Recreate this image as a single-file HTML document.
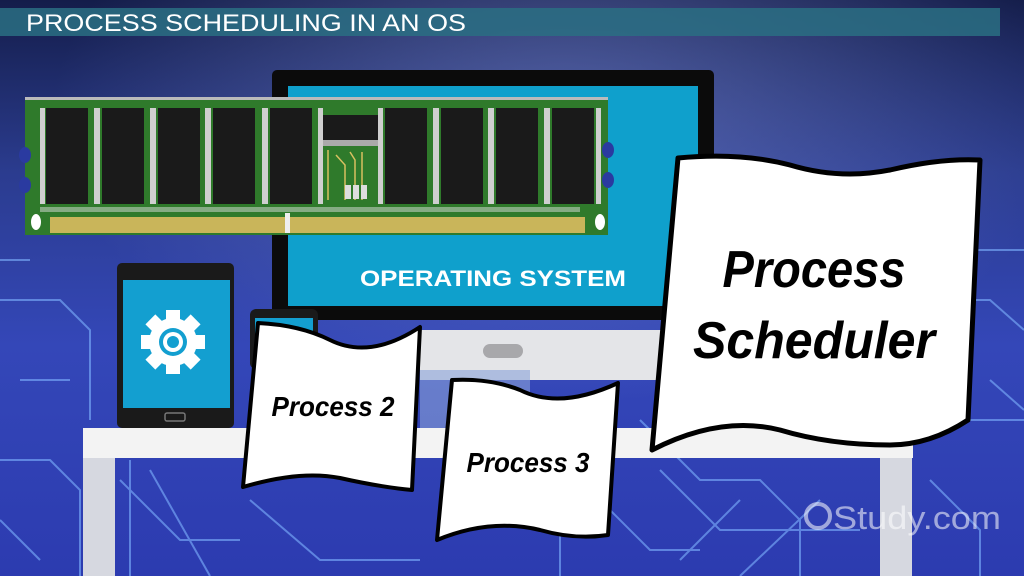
<!DOCTYPE html>
<html><head><meta charset="utf-8"><style>
html,body{margin:0;padding:0;width:1024px;height:576px;overflow:hidden;background:#2a3aa0}
svg{display:block}
</style></head><body>
<svg width="1024" height="576" viewBox="0 0 1024 576" xmlns="http://www.w3.org/2000/svg">
<defs>
<linearGradient id="bg" x1="0" y1="0" x2="0" y2="1">
<stop offset="0" stop-color="#141d4a"/><stop offset="0.3" stop-color="#2b3c8f"/><stop offset="0.6" stop-color="#3447b8"/><stop offset="1" stop-color="#2c3bb0"/>
</linearGradient>
<radialGradient id="glow" cx="0.55" cy="0.2" r="0.5"><stop offset="0" stop-color="#8090d8" stop-opacity="0.5"/><stop offset="1" stop-color="#8090d8" stop-opacity="0"/></radialGradient>
</defs>
<rect width="1024" height="576" fill="url(#bg)"/>
<rect width="1024" height="576" fill="url(#glow)"/>
<g stroke="#7fb4ff" stroke-width="2" fill="none" opacity="0.6">
<path d="M0 300 L60 300 L90 330 L90 420"/><path d="M0 460 L50 460 L80 490 L80 576"/>
<path d="M940 250 L1024 250"/><path d="M920 300 L990 300 L1024 330"/>
<path d="M930 480 L980 530 L980 576"/><path d="M640 420 L700 480 L760 480 L800 520 L800 576"/>
<path d="M250 500 L320 560 L420 560"/><path d="M560 520 L560 576"/><path d="M600 500 L650 550 L700 550"/>
<path d="M120 480 L180 540 L240 540"/><path d="M0 520 L40 560"/><path d="M660 470 L720 530 L860 530"/>
<path d="M0 260 L30 260"/><path d="M20 380 L70 380"/><path d="M990 380 L1024 410"/><path d="M960 420 L1024 420"/>
<path d="M130 460 L130 576"/><path d="M150 470 L210 576"/><path d="M680 560 L740 500"/><path d="M740 576 L820 500"/>
</g>
<!-- header -->
<rect x="0" y="8" width="1000" height="28" fill="#2a6f82" opacity="0.85"/>
<text x="26" y="31" font-family="Liberation Sans Narrow, Liberation Sans, sans-serif" font-size="24" fill="#fff" textLength="440" lengthAdjust="spacingAndGlyphs">PROCESS SCHEDULING IN AN OS</text>
<!-- desk -->
<rect x="83" y="428" width="830" height="30" fill="#f3f3f3"/>
<rect x="83" y="458" width="32" height="118" fill="#d6d8e0"/>
<rect x="880" y="458" width="32" height="118" fill="#d6d8e0"/>
<!-- monitor stand -->
<rect x="420" y="330" width="245" height="50" fill="#e4e5e8"/>
<rect x="483" y="344" width="40" height="14" rx="7" fill="#a8a8ab"/>
<rect x="420" y="370" width="110" height="58" fill="#8aa2d8" opacity="0.6"/>
<!-- monitor -->
<rect x="272" y="70" width="442" height="250" rx="5" fill="#0b0b0b"/>
<rect x="288" y="86" width="410" height="220" fill="#0fa0cc"/>
<text x="360" y="286" font-family="Liberation Sans, sans-serif" font-weight="bold" font-size="22" fill="#fff" textLength="266" lengthAdjust="spacingAndGlyphs">OPERATING SYSTEM</text>
<!-- tablet -->
<rect x="117" y="263" width="117" height="165" rx="5" fill="#1a1a1a"/>
<rect x="123" y="280" width="107" height="128" fill="#139fd0"/>
<rect x="165" y="413" width="20" height="8" rx="2" fill="none" stroke="#777" stroke-width="1.5"/>
<g transform="translate(173,342)" fill="#fff">
<circle r="24"/>
<g><rect x="-7" y="-32" width="14" height="64"/><rect x="-7" y="-32" width="14" height="64" transform="rotate(45)"/><rect x="-7" y="-32" width="14" height="64" transform="rotate(90)"/><rect x="-7" y="-32" width="14" height="64" transform="rotate(135)"/></g>
<circle r="14" fill="#139fd0"/><circle r="10" fill="#fff"/><circle r="6" fill="#139fd0"/>
</g>
<!-- phone -->
<rect x="250" y="309" width="68" height="60" rx="6" fill="#1a1a1a"/>
<rect x="255" y="318" width="58" height="50" fill="#139fd0"/>
<!-- RAM -->
<rect x="25" y="97" width="583" height="138" fill="#2f7a2b"/>
<rect x="25" y="97" width="583" height="3" fill="#bbb"/>
<g fill="#1a1a1a">
<rect x="46" y="108" width="42" height="96"/><rect x="102" y="108" width="42" height="96"/><rect x="158" y="108" width="42" height="96"/><rect x="213" y="108" width="42" height="96"/><rect x="270" y="108" width="42" height="96"/>
<rect x="323" y="115" width="55" height="25"/><rect x="385" y="108" width="42" height="96"/><rect x="441" y="108" width="42" height="96"/><rect x="496" y="108" width="42" height="96"/><rect x="552" y="108" width="42" height="96"/>
</g>
<g fill="#cfcfcf"><rect x="40" y="108" width="5" height="96"/><rect x="94" y="108" width="6" height="96"/><rect x="150" y="108" width="6" height="96"/><rect x="205" y="108" width="6" height="96"/><rect x="262" y="108" width="6" height="96"/><rect x="318" y="108" width="5" height="96"/><rect x="378" y="108" width="5" height="96"/><rect x="433" y="108" width="6" height="96"/><rect x="488" y="108" width="6" height="96"/><rect x="544" y="108" width="6" height="96"/><rect x="596" y="108" width="5" height="96"/></g>
<rect x="323" y="140" width="55" height="6" fill="#aaa"/>
<g stroke="#d8c060" stroke-width="1.5" fill="none"><path d="M328 150 L328 200"/><path d="M336 155 L345 165 L345 200"/><path d="M350 152 L355 160 L355 200"/><path d="M362 152 L362 200"/></g>
<g fill="#ddd"><rect x="345" y="185" width="6" height="14"/><rect x="353" y="185" width="6" height="14"/><rect x="361" y="185" width="6" height="14"/></g>
<g fill="#ddd"><rect x="40" y="207" width="540" height="5" opacity="0.5"/></g>
<rect x="50" y="217" width="535" height="16" fill="#c9b55a"/>
<rect x="285" y="213" width="5" height="20" fill="#eee"/>
<ellipse cx="36" cy="222" rx="5" ry="8" fill="#fff"/><ellipse cx="600" cy="222" rx="5" ry="8" fill="#fff"/>
<g fill="#2a3aa0"><ellipse cx="25" cy="155" rx="6" ry="8"/><ellipse cx="25" cy="185" rx="6" ry="8"/><ellipse cx="608" cy="150" rx="6" ry="8"/><ellipse cx="608" cy="180" rx="6" ry="8"/></g>
<!-- Process Scheduler paper -->
<path d="M678 158 Q740 152 790 165 Q840 180 890 170 Q940 158 980 160 L968 420 Q930 445 890 445 Q830 445 780 430 Q720 415 652 450 Z" fill="#fff" stroke="#000" stroke-width="5" stroke-linejoin="round"/>
<text x="814" y="287" text-anchor="middle" font-family="Liberation Sans Narrow, Liberation Sans, sans-serif" font-weight="bold" font-style="italic" font-size="52" fill="#000" textLength="183" lengthAdjust="spacingAndGlyphs">Process</text>
<text x="814" y="358" text-anchor="middle" font-family="Liberation Sans Narrow, Liberation Sans, sans-serif" font-weight="bold" font-style="italic" font-size="52" fill="#000" textLength="242" lengthAdjust="spacingAndGlyphs">Scheduler</text>
<!-- Process 2 -->
<path d="M258 323 Q300 325 330 340 Q370 360 420 327 L412 490 Q380 487 340 478 Q300 470 243 487 Z" fill="#fff" stroke="#000" stroke-width="4" stroke-linejoin="round"/>
<text x="333" y="416" text-anchor="middle" font-family="Liberation Sans Narrow, Liberation Sans, sans-serif" font-weight="bold" font-style="italic" font-size="28" fill="#000" textLength="123" lengthAdjust="spacingAndGlyphs">Process 2</text>
<!-- Process 3 -->
<path d="M452 380 Q490 378 520 390 Q560 410 618 383 L608 535 Q575 540 540 530 Q490 518 437 540 Z" fill="#fff" stroke="#000" stroke-width="4" stroke-linejoin="round"/>
<text x="528" y="472" text-anchor="middle" font-family="Liberation Sans Narrow, Liberation Sans, sans-serif" font-weight="bold" font-style="italic" font-size="28" fill="#000" textLength="123" lengthAdjust="spacingAndGlyphs">Process 3</text>
<!-- watermark -->
<circle cx="818" cy="516" r="12" fill="none" stroke="#fff" stroke-width="4" opacity="0.55"/>
<text x="833" y="529" font-family="Liberation Sans, sans-serif" font-size="32" fill="#fff" opacity="0.55" textLength="168" lengthAdjust="spacingAndGlyphs">Study.com</text>
</svg>
</body></html>
